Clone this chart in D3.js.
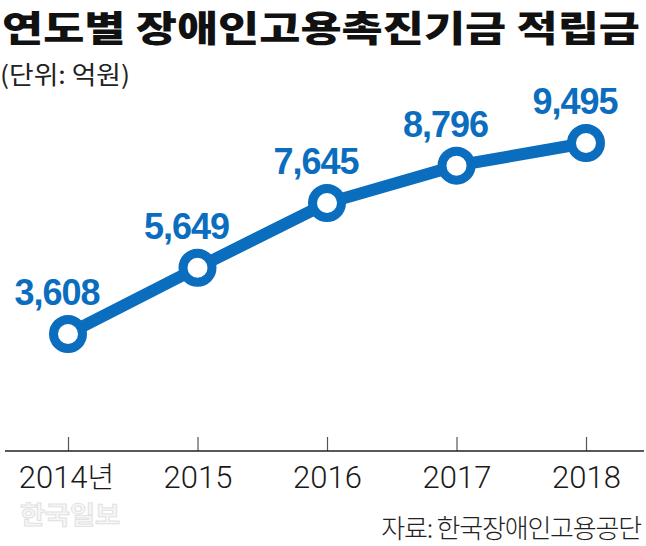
<!DOCTYPE html>
<html>
<head>
<meta charset="utf-8">
<script src="https://cdn.jsdelivr.net/npm/d3@7"></script>
<style>
  body { margin: 0; background: #fff; }
</style>
</head>
<body>
<div id="chart"></div>
<script>
// data
const years = ["2014", "2015", "2016", "2017", "2018"];
const tickLabels = ["2014년", "2015", "2016", "2017", "2018"];
const fundValues = [3608, 5649, 7645, 8796, 9495];

const width = 646, height = 546;
const blue = "#0b6dbe";
const kr = "'Noto Sans CJK KR', sans-serif";
const latin = "'Liberation Sans', Arial, sans-serif";

const svg = d3.select("#chart")
    .append("svg")
    .attr("width", width)
    .attr("height", height);

// title
svg.append("text")
    .attr("x", 2)
    .attr("y", 42)
    .style("font-family", kr)
    .attr("font-size", 36)
    .attr("font-weight", 900)
    .attr("fill", "#111")
    .attr("textLength", 638)
    .attr("lengthAdjust", "spacingAndGlyphs")
    .text("연도별 장애인고용촉진기금 적립금");

svg.append("text")
    .attr("x", 0)
    .attr("y", 84)
    .style("font-family", kr)
    .attr("font-size", 25)
    .attr("fill", "#222")
    .attr("textLength", 130)
    .attr("lengthAdjust", "spacingAndGlyphs")
    .text("(단위: 억원)");

// scales
const x = d3.scalePoint()
    .domain(years)
    .range([68, 586]);

const y = d3.scaleLinear()
    .domain([0, 9495])
    .range([451, 143]);

// axis
const axis = svg.append("g")
    .attr("transform", "translate(0,451)")
    .call(d3.axisBottom(x).tickSize(-14).tickFormat(() => ""));

axis.select(".domain").remove();
axis.append("line")
    .attr("x1", 5).attr("x2", 644)
    .attr("stroke", "#222").attr("stroke-width", 1.5);
axis.selectAll(".tick line").attr("stroke", "#555").attr("stroke-width", 1.2);
axis.selectAll(".tick text")
    .style("font-family", "Roboto, sans-serif")
    .attr("font-size", 31)
    .attr("font-weight", 300)
    .attr("fill", "#1a1a1a")
    .attr("y", 37)
    .attr("dy", 0)
    .each(function(d, i) {
      const t = d3.select(this);
      const lab = tickLabels[i];
      const num = lab.replace(/[^0-9]/g, "");
      const suffix = lab.slice(num.length);
      t.append("tspan").text(num);
      if (suffix) {
        t.append("tspan")
          .style("font-family", kr)
          .attr("font-weight", 300)
          .attr("font-size", 29)
          .text(suffix);
        t.attr("dx", -2);
      }
    });

// line
const line = d3.line()
    .x((d, i) => x(years[i]))
    .y(d => y(d));

svg.append("path")
    .datum(fundValues)
    .attr("d", line)
    .attr("fill", "none")
    .attr("stroke", blue)
    .attr("stroke-width", 12);

// points
svg.selectAll(".dot")
    .data(fundValues)
    .enter()
    .append("circle")
    .attr("class", "dot")
    .attr("cx", (d, i) => x(years[i]))
    .attr("cy", d => y(d))
    .attr("r", 14.5)
    .attr("fill", "#fff")
    .attr("stroke", blue)
    .attr("stroke-width", 9);

// value labels
svg.selectAll(".val")
    .data(fundValues)
    .enter()
    .append("text")
    .attr("class", "val")
    .attr("x", (d, i) => x(years[i]) - 11)
    .attr("y", d => y(d) - 29)
    .attr("text-anchor", "middle")
    .style("font-family", latin)
    .attr("font-size", 36)
    .attr("font-weight", "bold")
    .attr("letter-spacing", -1)
    .attr("fill", blue)
    .text(d => d3.format(",")(d));

// watermark
svg.append("text")
    .attr("x", 20)
    .attr("y", 524)
    .style("font-family", kr)
    .attr("font-size", 25)
    .attr("font-weight", "bold")
    .attr("fill", "#f7f7f7")
    .attr("stroke", "#e2e2e2")
    .attr("stroke-width", 1)
    .attr("textLength", 100)
    .attr("lengthAdjust", "spacingAndGlyphs")
    .text("한국일보");

// source
svg.append("text")
    .attr("x", 641)
    .attr("y", 538)
    .attr("text-anchor", "end")
    .style("font-family", kr)
    .attr("font-size", 26)
    .attr("font-weight", 300)
    .attr("letter-spacing", -1.2)
    .attr("fill", "#222")
    .text("자료: 한국장애인고용공단");
</script>
</body>
</html>
